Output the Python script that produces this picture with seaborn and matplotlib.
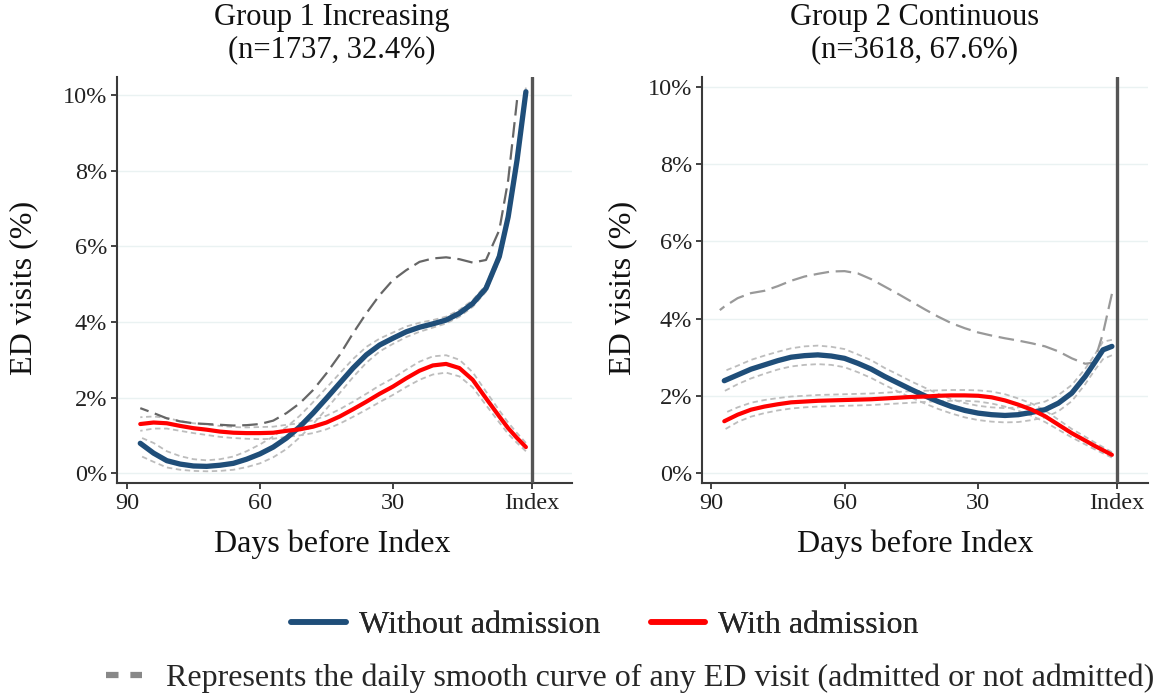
import numpy as np
import pandas as pd
import seaborn as sns
import matplotlib
matplotlib.use("Agg")
import matplotlib.pyplot as plt
from matplotlib.lines import Line2D

# ---------------- data ----------------
DAYS = [87, 84, 81, 78, 75, 72, 69, 66, 63, 60, 57, 54, 51, 48, 45, 42, 39, 36,
        33, 30, 27, 24, 21, 18, 15, 12, 9, 6, 4, 2, 0]

# Group 1 Increasing
G1_WITHOUT = [0.79, 0.53, 0.33, 0.24, 0.19, 0.18, 0.21, 0.26, 0.37, 0.51, 0.69, 0.93, 1.23,
              1.59, 1.98, 2.38, 2.78, 3.13, 3.39, 3.57, 3.74, 3.86, 3.95, 4.05, 4.23, 4.49,
              4.89, 5.73, 6.78, 8.28, 10.09]
G1_WITHOUT_LO = [0.46, 0.30, 0.15, 0.09, 0.06, 0.05, 0.06, 0.09, 0.16, 0.26, 0.42, 0.64, 0.95,
                 1.30, 1.70, 2.12, 2.54, 2.92, 3.22, 3.42, 3.60, 3.74, 3.85, 3.96, 4.14, 4.40,
                 4.80, 5.62, 6.66, 8.14, 9.95]
G1_WITHOUT_HI = [0.95, 0.80, 0.58, 0.45, 0.37, 0.34, 0.37, 0.44, 0.58, 0.76, 0.97, 1.22, 1.52,
                 1.88, 2.26, 2.64, 3.02, 3.34, 3.56, 3.72, 3.88, 3.98, 4.05, 4.14, 4.32, 4.58,
                 4.98, 5.84, 6.90, 8.42, 10.20]
G1_WITH = [1.30, 1.34, 1.32, 1.25, 1.19, 1.15, 1.10, 1.07, 1.06, 1.06, 1.07, 1.12, 1.16, 1.23,
           1.34, 1.50, 1.69, 1.89, 2.10, 2.29, 2.51, 2.71, 2.85, 2.89, 2.78, 2.47, 1.98, 1.50,
           1.19, 0.93, 0.69]
G1_WITH_LO = [1.12, 1.18, 1.18, 1.12, 1.06, 1.01, 0.96, 0.93, 0.91, 0.90, 0.91, 0.96, 1.00,
              1.06, 1.16, 1.31, 1.49, 1.68, 1.88, 2.07, 2.28, 2.47, 2.61, 2.66, 2.56, 2.27,
              1.80, 1.34, 1.04, 0.80, 0.58]
G1_WITH_HI = [1.48, 1.50, 1.46, 1.38, 1.32, 1.29, 1.25, 1.22, 1.21, 1.22, 1.23, 1.28, 1.32,
              1.40, 1.52, 1.69, 1.89, 2.10, 2.32, 2.51, 2.74, 2.95, 3.09, 3.12, 3.00, 2.67,
              2.16, 1.66, 1.34, 1.06, 0.80]
G1_ANY_DAYS = DAYS[:-1]
G1_ANY = [1.72, 1.59, 1.45, 1.37, 1.32, 1.30, 1.28, 1.26, 1.27, 1.30, 1.39, 1.59, 1.85, 2.20,
          2.64, 3.13, 3.70, 4.23, 4.71, 5.11, 5.37, 5.59, 5.68, 5.71, 5.66, 5.57, 5.64, 6.43,
          7.75, 9.87]

# Group 2 Continuous
G2_WITHOUT = [2.39, 2.54, 2.69, 2.80, 2.91, 3.00, 3.04, 3.06, 3.03, 2.97, 2.84, 2.69, 2.50,
              2.33, 2.16, 2.00, 1.85, 1.72, 1.62, 1.55, 1.51, 1.49, 1.51, 1.57, 1.64, 1.81,
              2.07, 2.50, 2.84, 3.19, 3.28]
G2_WITHOUT_LO = [2.12, 2.30, 2.45, 2.57, 2.68, 2.76, 2.80, 2.82, 2.80, 2.74, 2.61, 2.46, 2.28,
                 2.11, 1.95, 1.80, 1.66, 1.54, 1.44, 1.37, 1.33, 1.31, 1.32, 1.37, 1.44, 1.60,
                 1.86, 2.30, 2.64, 2.95, 3.05]
G2_WITHOUT_HI = [2.64, 2.78, 2.93, 3.04, 3.14, 3.23, 3.28, 3.30, 3.27, 3.21, 3.07, 2.92, 2.72,
                 2.55, 2.37, 2.21, 2.05, 1.91, 1.81, 1.74, 1.70, 1.68, 1.70, 1.77, 1.85, 2.02,
                 2.28, 2.70, 3.04, 3.40, 3.45]
G2_WITH = [1.34, 1.51, 1.64, 1.72, 1.78, 1.83, 1.85, 1.87, 1.88, 1.89, 1.90, 1.91, 1.93, 1.95,
           1.97, 1.98, 2.00, 2.01, 2.01, 2.00, 1.96, 1.88, 1.77, 1.64, 1.47, 1.25, 1.03, 0.84,
           0.71, 0.59, 0.47]
G2_WITH_LO = [1.12, 1.32, 1.46, 1.55, 1.62, 1.67, 1.70, 1.72, 1.73, 1.74, 1.75, 1.76, 1.78,
              1.80, 1.82, 1.84, 1.86, 1.87, 1.87, 1.85, 1.80, 1.72, 1.61, 1.48, 1.32, 1.12,
              0.92, 0.74, 0.62, 0.51, 0.40]
G2_WITH_HI = [1.55, 1.70, 1.82, 1.89, 1.94, 1.98, 2.00, 2.02, 2.03, 2.04, 2.05, 2.06, 2.08,
              2.10, 2.12, 2.13, 2.14, 2.15, 2.15, 2.14, 2.11, 2.04, 1.93, 1.80, 1.62, 1.38,
              1.14, 0.94, 0.80, 0.67, 0.54]
G2_ANY_DAYS = [88] + DAYS
G2_ANY = [4.22, 4.31, 4.53, 4.66, 4.72, 4.84, 4.98, 5.09, 5.16, 5.22, 5.23, 5.17, 5.02, 4.83,
          4.64, 4.44, 4.24, 4.05, 3.88, 3.75, 3.64, 3.56, 3.49, 3.43, 3.36, 3.28, 3.15, 2.97,
          2.83, 2.86, 3.62, 4.64]

TITLES = [("Group 1 Increasing", "(n=1737, 32.4%)"),
          ("Group 2 Continuous", "(n=3618, 67.6%)")]
X_TICKS = [90, 60, 30]
Y_TICKS = [0, 2, 4, 6, 8, 10]
Y_TICK_LABELS = ["0%", "2%", "4%", "6%", "8%", "10%"]
LEGEND_LABELS = ["Without admission", "With admission"]
LEGEND_NOTE = "Represents the daily smooth curve of any ED visit (admitted or not admitted)"

# ---------------- style ----------------
sns.set_theme(style="white")
plt.rcParams['font.family'] = ['Liberation Serif', 'DejaVu Serif']

BLUE = "#1F4E79"
RED = "#FF0000"
ANY1 = "#666666"
ANY2 = "#999999"
CI = "#BDBDBD"
AXC = "#3A3A3A"

W, H = 1174, 698
fig = plt.figure(figsize=(W / 100, H / 100), dpi=100)

def box(l, r, t, b):
    return [l / W, 1 - b / H, (r - l) / W, (b - t) / H]

panels = [
    dict(rect=box(117, 572, 77, 483), xlim=(92.25, -10.4), ylim=(-0.26, 10.48), index=-1.35,
         without=(G1_WITHOUT, G1_WITHOUT_LO, G1_WITHOUT_HI),
         with_=(G1_WITH, G1_WITH_LO, G1_WITH_HI),
         any_=(G1_ANY_DAYS, G1_ANY), anyc=ANY1, title_x=332, ylab_x=-0.174),
    dict(rect=box(702, 1148, 77, 483), xlim=(92.0, -8.1), ylim=(-0.26, 10.26), index=-1.1,
         without=(G2_WITHOUT, G2_WITHOUT_LO, G2_WITHOUT_HI),
         with_=(G2_WITH, G2_WITH_LO, G2_WITH_HI),
         any_=(G2_ANY_DAYS, G2_ANY), anyc=ANY2, title_x=915, ylab_x=-0.146),
]

for p, (t1, t2) in zip(panels, TITLES):
    ax = fig.add_axes(p["rect"])
    for yv in Y_TICKS:
        ax.axhline(yv, color="#EAF2F2", lw=1.0, zorder=0)

    # CI bands (dashed light grey)
    for lo_hi in (p["without"][1:], p["with_"][1:]):
        for arr in lo_hi:
            sns.lineplot(x=DAYS, y=arr, ax=ax, color=CI, lw=1.3,
                         linestyle=(0, (3, 2)), zorder=2)
    # any ED visit
    sns.lineplot(x=p["any_"][0], y=p["any_"][1], ax=ax, color=p["anyc"], lw=1.6,
                 linestyle=(0, (7, 3)), zorder=3)
    # main curves
    sns.lineplot(x=DAYS, y=p["without"][0], ax=ax, color=BLUE, lw=3.8, zorder=4)
    sns.lineplot(x=DAYS, y=p["with_"][0], ax=ax, color=RED, lw=3.0, zorder=5)

    ax.axvline(p["index"], color="#555555", lw=2.4, zorder=6)

    ax.set_xlim(*p["xlim"])
    ax.set_ylim(*p["ylim"])
    ax.set_xticks(X_TICKS + [p["index"]])
    ax.set_xticklabels([str(v) for v in X_TICKS] + ["Index"])
    ax.set_yticks(Y_TICKS)
    ax.set_yticklabels(Y_TICK_LABELS)
    ax.tick_params(axis="both", labelsize=17.5, colors="#222222", length=4, width=1.2,
                   direction="out", pad=3, bottom=True, left=True)
    for side in ("top", "right"):
        ax.spines[side].set_visible(False)
    for side in ("left", "bottom"):
        ax.spines[side].set_color(AXC)
        ax.spines[side].set_linewidth(1.5)

    ax.set_xlabel("Days before Index", fontsize=23, color="#111111")
    ax.xaxis.set_label_coords((p["title_x"] - p["rect"][0] * W) / (p["rect"][2] * W), -0.115)
    ax.set_ylabel("ED visits (%)", fontsize=23, color="#111111")
    ax.yaxis.set_label_coords(p["ylab_x"], 0.48)

    fig.text(p["title_x"] / W, 1 - 18 / H, t1, ha="center", va="center", fontsize=22,
             color="#111111")
    fig.text(p["title_x"] / W, 1 - 50 / H, t2, ha="center", va="center", fontsize=22,
             color="#111111")

# legends
h1 = [Line2D([], [], color=BLUE, lw=4), Line2D([], [], color=RED, lw=4)]
leg1 = fig.legend(h1, LEGEND_LABELS, loc="center", bbox_to_anchor=(605 / W, 1 - 625 / H),
                  ncol=2, frameon=False, fontsize=23, handlelength=1.7, columnspacing=1.6,
                  handletextpad=0.4)
fig.add_artist(leg1)
h2 = [Line2D([], [], color="#888888", lw=4.5, linestyle=(0, (2.0, 1.9)))]
fig.legend(h2, [LEGEND_NOTE], loc="center", bbox_to_anchor=(630 / W, 1 - 678 / H),
           frameon=False, fontsize=23, handlelength=1.15, handletextpad=0.75)

fig.savefig("out.png", dpi=100)
